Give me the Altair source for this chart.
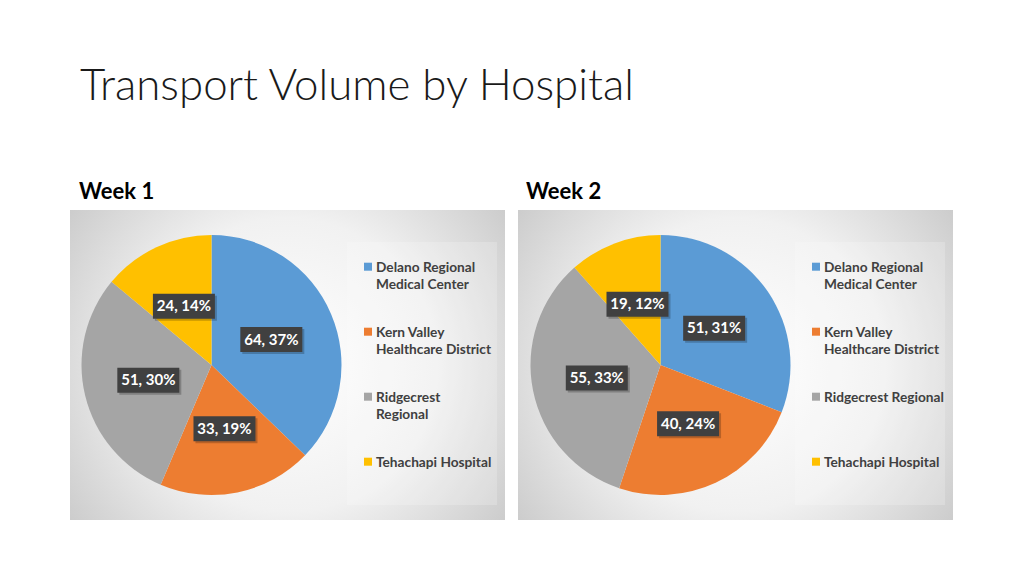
import altair as alt
import pandas as pd

# ---------------- data ----------------
hospitals = ["Delano Regional Medical Center", "Kern Valley Healthcare District",
             "Ridgecrest Regional", "Tehachapi Hospital"]
colors = ["#5B9BD5", "#ED7D31", "#A5A5A5", "#FFC000"]
weeks = ["Week 1", "Week 2"]
week1_values = [64, 33, 51, 24]
week2_values = [51, 40, 55, 19]
legend_week1 = ["Delano Regional\nMedical Center", "Kern Valley\nHealthcare District",
                "Ridgecrest\nRegional", "Tehachapi Hospital"]
legend_week2 = ["Delano Regional\nMedical Center", "Kern Valley\nHealthcare District",
                "Ridgecrest Regional", "Tehachapi Hospital"]
title_text = "Transport Volume by Hospital"

rows = []
for wi, (wk, vals, leg) in enumerate(zip(weeks, [week1_values, week2_values],
                                          [legend_week1, legend_week2])):
    for i, (h, v, l) in enumerate(zip(hospitals, vals, leg)):
        rows.append(dict(week=wk, wi=wi, hospital=h, order=i, value=v, legend=l))
df = pd.DataFrame(rows)
panels = pd.DataFrame({"week": weeks, "wi": [0, 1]})

W, H = 1008, 560
FONT = "Lato"
xs = alt.Scale(domain=[0, W], range=[0, W], nice=False, zero=False)
ys = alt.Scale(domain=[0, H], range=[0, H], nice=False, zero=False)
color_scale = alt.Scale(domain=hospitals, range=colors)

base = alt.Chart(df).transform_joinaggregate(
    total="sum(value)", groupby=["week"]
).transform_window(
    cum="sum(value)", sort=[alt.SortField("order")], groupby=["week"], frame=[None, 0]
).transform_calculate(
    start="(datum.cum - datum.value) / datum.total",
    end="datum.cum / datum.total",
    mid="(datum.cum - datum.value / 2) / datum.total",
    cx="203.5 + 449 * datum.wi",
    cy="357",
    lx="datum.cx + 65 * sin(2 * PI * datum.mid)",
    ly="datum.cy - 65 * cos(2 * PI * datum.mid)",
    bx1="datum.lx - 31", bx2="datum.lx + 31",
    by1="datum.ly - 12.5", by2="datum.ly + 12.5",
    sx1="datum.bx1 + 2", sx2="datum.bx2 + 2",
    sy1="datum.by1 + 2", sy2="datum.by2 + 2",
    label="datum.value + ', ' + round(100 * datum.value / datum.total) + '%'",
    gx="360 + 448 * datum.wi",
    gy="258.7 + 65 * datum.order",
    tx="368 + 448 * datum.wi",
    ty="263.7 + 65 * datum.order",
)

# panel backgrounds
panel_base = alt.Chart(panels).transform_calculate(
    px1="62 + 448 * datum.wi", px2="497 + 448 * datum.wi",
    py1="202", py2="512",
    lx1="339 + 448 * datum.wi", lx2="489 + 448 * datum.wi",
    ly1="234", ly2="497",
    wx="71 + 447 * datum.wi", wy="191",
)
panel_bg = panel_base.mark_rect(
    fill={"gradient": "radial",
          "stops": [{"offset": 0, "color": "#ffffff"},
                    {"offset": 0.45, "color": "#f1f1f1"},
                    {"offset": 1, "color": "#bababa"}],
          "x1": 0.5, "y1": 0.5, "r1": 0, "x2": 0.5, "y2": 0.5, "r2": 0.75}
).encode(
    x=alt.X("px1:Q", scale=xs, axis=None), x2="px2:Q",
    y=alt.Y("py1:Q", scale=ys, axis=None), y2="py2:Q",
)
legend_bg = panel_base.mark_rect(fill="#ffffff", opacity=0.2).encode(
    x=alt.X("lx1:Q", scale=xs, axis=None), x2="lx2:Q",
    y=alt.Y("ly1:Q", scale=ys, axis=None), y2="ly2:Q",
)
week_labels = panel_base.mark_text(
    font=FONT, fontSize=22, fontWeight="bold", color="#000000",
    align="left", baseline="alphabetic"
).encode(
    x=alt.X("wx:Q", scale=xs, axis=None),
    y=alt.Y("wy:Q", scale=ys, axis=None),
    text="week:N",
)

pies = base.mark_arc(radius=130).encode(
    x=alt.X("cx:Q", scale=xs, axis=None),
    y=alt.Y("cy:Q", scale=ys, axis=None),
    theta=alt.Theta("start:Q", scale=alt.Scale(domain=[0, 1], range=[0, 6.283185307179586])),
    theta2="end:Q",
    color=alt.Color("hospital:N", scale=color_scale, legend=None),
)

label_shadow = base.mark_rect(color="#000000", opacity=0.22).encode(
    x=alt.X("sx1:Q", scale=xs, axis=None), x2="sx2:Q",
    y=alt.Y("sy1:Q", scale=ys, axis=None), y2="sy2:Q",
)
label_box = base.mark_rect(color="#404040").encode(
    x=alt.X("bx1:Q", scale=xs, axis=None), x2="bx2:Q",
    y=alt.Y("by1:Q", scale=ys, axis=None), y2="by2:Q",
)
label_text = base.mark_text(
    font=FONT, fontSize=15, fontWeight="bold", color="#ffffff",
    align="center", baseline="middle"
).encode(
    x=alt.X("lx:Q", scale=xs, axis=None),
    y=alt.Y("ly:Q", scale=ys, axis=None),
    text="label:N",
)

legend_sym = base.mark_square(size=64, opacity=1).encode(
    x=alt.X("gx:Q", scale=xs, axis=None),
    y=alt.Y("gy:Q", scale=ys, axis=None),
    color=alt.Color("hospital:N", scale=color_scale, legend=None),
)
legend_text = base.mark_text(
    font=FONT, fontSize=13.7, fontWeight="bold", color="#404040",
    align="left", baseline="alphabetic", lineBreak="\n", lineHeight=17.5
).encode(
    x=alt.X("tx:Q", scale=xs, axis=None),
    y=alt.Y("ty:Q", scale=ys, axis=None),
    text="legend:N",
)

title = alt.Chart(pd.DataFrame({"t": [title_text]})).mark_text(
    font=FONT, fontSize=43.8, fontWeight=300, color="#1a1a1a",
    align="left", baseline="alphabetic"
).encode(
    x=alt.value(72), y=alt.value(92), text="t:N"
)

chart = alt.layer(
    panel_bg, legend_bg, week_labels, pies, label_shadow, label_box, label_text,
    legend_sym, legend_text, title
).properties(
    width=W, height=H, padding=0,
    autosize=alt.AutoSizeParams(type="none"),
    background="#ffffff",
).configure_view(strokeWidth=0)

chart.save("out.html", embed_options={"renderer": "svg", "actions": False})
